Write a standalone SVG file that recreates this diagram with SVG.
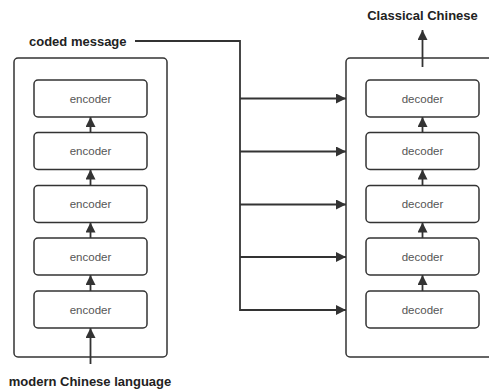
<svg xmlns="http://www.w3.org/2000/svg" width="489" height="392" viewBox="0 0 489 392">
<style>
.outer{fill:#fff;stroke:#333;stroke-width:1.5}
.box{fill:#fff;stroke:#333;stroke-width:1.5}
.lbl{font-family:"Liberation Sans",Arial,sans-serif;font-size:11.5px;fill:#555;text-anchor:middle}
.title{font-family:"Liberation Sans",Arial,sans-serif;font-size:13px;font-weight:bold;fill:#222}
.ln{fill:none;stroke:#333;stroke-width:1.8}
</style>
<defs>
<marker id="ah" viewBox="0 0 10 10" refX="10" refY="5" markerWidth="10" markerHeight="10" markerUnits="userSpaceOnUse" orient="auto">
<path d="M0,0 L10,5 L0,10 Z" fill="#333"/>
</marker>
</defs>
<rect width="489" height="392" fill="#fff"/>
<g id="encoder-stack">
<rect class="outer" x="14" y="58" width="153" height="299" rx="4"/>
</g>
<g id="decoder-stack">
<rect class="outer" x="346" y="58" width="153" height="299" rx="4"/>
</g>
<g id="enc1"><rect class="box" x="34" y="80" width="113" height="37" rx="4"/><text class="lbl" x="90.5" y="102.5">encoder</text></g>
<g id="enc2"><rect class="box" x="34" y="132.5" width="113" height="37" rx="4"/><text class="lbl" x="90.5" y="155">encoder</text></g>
<g id="enc3"><rect class="box" x="34" y="185.5" width="113" height="37" rx="4"/><text class="lbl" x="90.5" y="208">encoder</text></g>
<g id="enc4"><rect class="box" x="34" y="238" width="113" height="37" rx="4"/><text class="lbl" x="90.5" y="260.5">encoder</text></g>
<g id="enc5"><rect class="box" x="34" y="291" width="113" height="37" rx="4"/><text class="lbl" x="90.5" y="313.5">encoder</text></g>
<g id="dec1"><rect class="box" x="366" y="80" width="113" height="37" rx="4"/><text class="lbl" x="422.5" y="102.5">decoder</text></g>
<g id="dec2"><rect class="box" x="366" y="132.5" width="113" height="37" rx="4"/><text class="lbl" x="422.5" y="155">decoder</text></g>
<g id="dec3"><rect class="box" x="366" y="185.5" width="113" height="37" rx="4"/><text class="lbl" x="422.5" y="208">decoder</text></g>
<g id="dec4"><rect class="box" x="366" y="238" width="113" height="37" rx="4"/><text class="lbl" x="422.5" y="260.5">decoder</text></g>
<g id="dec5"><rect class="box" x="366" y="291" width="113" height="37" rx="4"/><text class="lbl" x="422.5" y="313.5">decoder</text></g>
<g id="label-coded"><text class="title" x="29" y="46">coded message</text></g>
<g id="label-modern"><text class="title" x="90" y="386" text-anchor="middle">modern Chinese language</text></g>
<g id="label-classical"><text class="title" x="422.5" y="20" text-anchor="middle">Classical Chinese</text></g>
<g id="connectors">
<path class="ln" d="M90.5,364 V328" marker-end="url(#ah)"/>
<path class="ln" d="M90.5,291 V275" marker-end="url(#ah)"/>
<path class="ln" d="M90.5,238 V222.5" marker-end="url(#ah)"/>
<path class="ln" d="M90.5,185.5 V169.5" marker-end="url(#ah)"/>
<path class="ln" d="M90.5,132.5 V117" marker-end="url(#ah)"/>
<path class="ln" d="M422.5,291 V275" marker-end="url(#ah)"/>
<path class="ln" d="M422.5,238 V222.5" marker-end="url(#ah)"/>
<path class="ln" d="M422.5,185.5 V169.5" marker-end="url(#ah)"/>
<path class="ln" d="M422.5,132.5 V117" marker-end="url(#ah)"/>
<path class="ln" d="M422.5,67 V30" marker-end="url(#ah)"/>
<path class="ln" d="M135,41 H240 V310 H346" marker-end="url(#ah)"/>
<path class="ln" d="M240,98.5 H346" marker-end="url(#ah)"/>
<path class="ln" d="M240,151.5 H346" marker-end="url(#ah)"/>
<path class="ln" d="M240,204.5 H346" marker-end="url(#ah)"/>
<path class="ln" d="M240,257 H346" marker-end="url(#ah)"/>
</g>
</svg>
